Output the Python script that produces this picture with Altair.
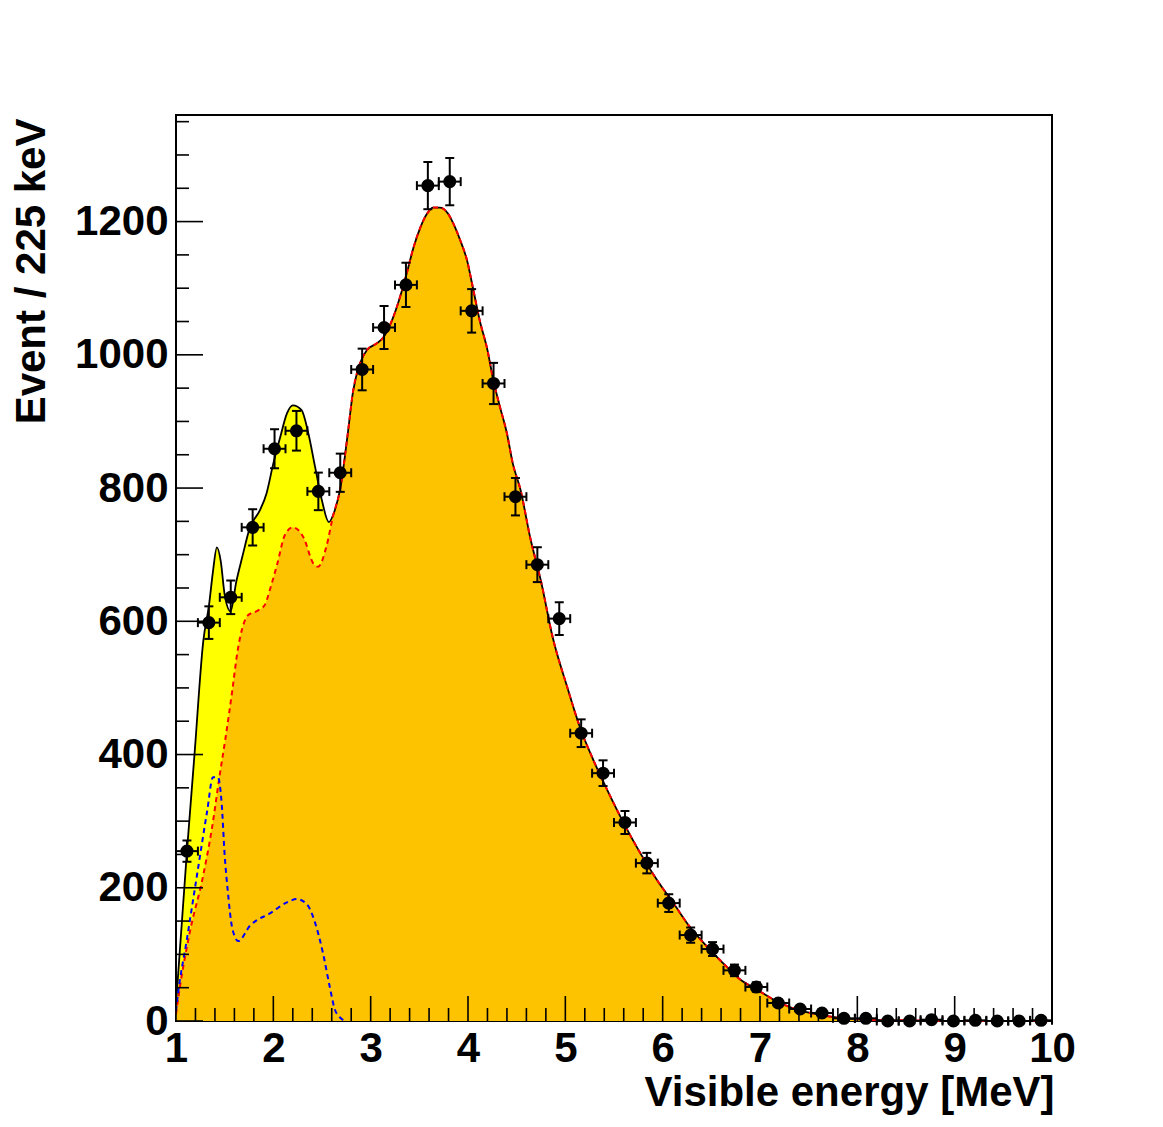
import altair as alt
import pandas as pd

# ---------------- data ----------------
bin_width = 0.225
counts = [255, 598, 636, 741, 859, 886, 795, 823, 978, 1041,
          1105, 1254, 1260, 1066, 957, 787, 685, 604, 432, 372,
          298, 237, 177, 129, 108, 76, 51, 27, 18, 12,
          4, 4, 0, 0, 2, 0, 1, 0, 0, 1]

# total fit (black solid, yellow fill)
total_x = [1.00, 1.11, 1.19, 1.28, 1.34, 1.38, 1.42, 1.46, 1.50, 1.56,
           1.62, 1.68, 1.76, 1.86, 1.93, 2.00, 2.07, 2.14, 2.20, 2.29,
           2.36, 2.43, 2.50, 2.57, 2.63, 2.69, 2.76, 2.82, 2.89, 2.96,
           3.06, 3.13, 3.22, 3.30, 3.37, 3.44, 3.51, 3.58, 3.64, 3.71,
           3.79, 3.85, 3.92, 3.99, 4.05, 4.12, 4.20, 4.26, 4.33, 4.40,
           4.46, 4.54, 4.64, 4.75, 4.87, 5.02, 5.15, 5.29, 5.43, 5.60,
           5.77, 5.94, 6.11, 6.28, 6.46, 6.62, 6.80, 6.97, 7.14, 7.34,
           7.55, 7.80, 8.10, 8.50, 9.00, 10.00]
total_y = [25, 250, 400, 570, 625, 675, 711, 690, 640, 615,
           660, 696, 741, 766, 792, 837, 876, 912, 924, 917,
           882, 831, 781, 749, 766, 801, 876, 946, 987, 1007,
           1017, 1026, 1052, 1086, 1122, 1161, 1191, 1212, 1221, 1221,
           1213, 1197, 1172, 1142, 1101, 1052, 1007, 962, 921, 882,
           837, 797, 725, 660, 576, 501, 441, 391, 347, 297,
           252, 212, 177, 141, 111, 87, 62, 47, 32, 19,
           11, 5, 2, 1, 0, 0]

# reactor component (red dashed, orange fill) below the point where it joins the total
reactor_x = [1.00, 1.04, 1.14, 1.28, 1.37, 1.45, 1.51, 1.58, 1.63, 1.68,
             1.74, 1.84, 1.91, 1.97, 2.04, 2.12, 2.20, 2.31, 2.41, 2.46,
             2.55, 2.61]
reactor_y = [10, 51, 132, 219, 290, 370, 426, 498, 553, 589,
             609, 616, 624, 650, 686, 730, 741, 726, 687, 682,
             715, 756]
join_x = 2.69

# geo-neutrino component (blue dashed)
geo_x = [1.00, 1.02, 1.11, 1.22, 1.32, 1.38, 1.43, 1.47, 1.50, 1.53,
         1.58, 1.64, 1.76, 1.97, 2.14, 2.24, 2.34, 2.43, 2.51, 2.58,
         2.63, 2.68, 2.74]
geo_y = [15, 40, 121, 223, 315, 366, 366, 325, 249, 198,
         138, 120, 143, 162, 178, 183, 176, 147, 102, 51,
         18, 6, 0]

x_major = list(range(1, 11))
x_minor = [round(1 + 0.2 * i, 2) for i in range(46) if i % 5 != 0]
y_major = [0, 200, 400, 600, 800, 1000, 1200]
y_minor = [50 * i for i in range(1, 28) if i % 4 != 0]

# ---------------- tables ----------------
centers = [1 + bin_width * (i + 0.5) for i in range(len(counts))]
pts = pd.DataFrame({"e": centers, "v": counts})
pts["lo"] = pts["v"] - pts["v"] ** 0.5
pts["hi"] = pts["v"] + pts["v"] ** 0.5
pts["xlo"] = pts["e"] - bin_width / 2
pts["xhi"] = pts["e"] + bin_width / 2

total = pd.DataFrame({"e": total_x, "v": total_y})
rx = reactor_x + [x for x in total_x if x >= join_x]
ry = reactor_y + [y for x, y in zip(total_x, total_y) if x >= join_x]
reactor = pd.DataFrame({"e": rx, "v": ry})
geo = pd.DataFrame({"e": geo_x, "v": geo_y})

W, H = 876, 906
FONT = "Liberation Sans"
xs = alt.Scale(domain=[1, 10], nice=False, zero=False)
ys = alt.Scale(domain=[0, 1360], nice=False)

x_axis = alt.Axis(values=x_major, format="d", ticks=False, domain=False, grid=False,
                  labelFont=FONT, labelFontSize=42, labelFontWeight="bold", labelColor="black",
                  labelPadding=7, labelOverlap=False, labelFlush=False,
                  title="Visible energy [MeV]", titleFont=FONT, titleFontSize=42,
                  titleFontWeight="bold", titleColor="black", titleAnchor="end",
                  titleAlign="right", titleBaseline="alphabetic", titleX=W + 2, titleY=84)
y_axis = alt.Axis(values=y_major, format="d", ticks=False, domain=False, grid=False,
                  labelFont=FONT, labelFontSize=42, labelFontWeight="bold", labelColor="black",
                  labelPadding=8, labelOverlap=False, labelFlush=False,
                  title="Event / 225 keV", titleFont=FONT, titleFontSize=42,
                  titleFontWeight="bold", titleColor="black", titleAngle=270,
                  titleAlign="right", titleBaseline="alphabetic", titleX=-132, titleY=3)

yellow = alt.Chart(total).mark_area(color="#FFFF00", interpolate="monotone", opacity=1).encode(
    x=alt.X("e:Q", scale=xs, axis=x_axis), y=alt.Y("v:Q", scale=ys, axis=y_axis))
orange = alt.Chart(reactor).mark_area(color="#FDC300", interpolate="monotone", opacity=1).encode(
    x=alt.X("e:Q", scale=xs), y=alt.Y("v:Q", scale=ys))
black_line = alt.Chart(total).mark_line(color="black", strokeWidth=1.8, interpolate="monotone").encode(
    x=alt.X("e:Q", scale=xs), y=alt.Y("v:Q", scale=ys))
red_line = alt.Chart(reactor).mark_line(color="#FF0000", strokeWidth=2, strokeDash=[5, 4],
                                        interpolate="monotone").encode(
    x=alt.X("e:Q", scale=xs), y=alt.Y("v:Q", scale=ys))
blue_line = alt.Chart(geo).mark_line(color="#0000FF", strokeWidth=2, strokeDash=[5, 4],
                                     interpolate="monotone").encode(
    x=alt.X("e:Q", scale=xs), y=alt.Y("v:Q", scale=ys))

# inner axis ticks (ROOT style)
xt_major = alt.Chart(pd.DataFrame({"e": x_major})).mark_rule(color="black", strokeWidth=1.6).encode(
    x=alt.X("e:Q", scale=xs), y=alt.value(H), y2=alt.value(H - 25))
xt_minor = alt.Chart(pd.DataFrame({"e": x_minor})).mark_rule(color="black", strokeWidth=1.6).encode(
    x=alt.X("e:Q", scale=xs), y=alt.value(H), y2=alt.value(H - 13))
yt_major = alt.Chart(pd.DataFrame({"v": y_major})).mark_rule(color="black", strokeWidth=1.6).encode(
    y=alt.Y("v:Q", scale=ys), x=alt.value(0), x2=alt.value(27))
yt_minor = alt.Chart(pd.DataFrame({"v": y_minor})).mark_rule(color="black", strokeWidth=1.6).encode(
    y=alt.Y("v:Q", scale=ys), x=alt.value(0), x2=alt.value(13))

# data points with error bars
vbar = alt.Chart(pts).mark_rule(color="black", strokeWidth=2).encode(
    x=alt.X("e:Q", scale=xs), y=alt.Y("lo:Q", scale=ys), y2="hi:Q")
hbar = alt.Chart(pts).mark_rule(color="black", strokeWidth=2).encode(
    x=alt.X("xlo:Q", scale=xs), x2="xhi:Q", y=alt.Y("v:Q", scale=ys))
cap_lo = alt.Chart(pts).mark_tick(color="black", orient="horizontal", size=9, thickness=2, opacity=1).encode(
    x=alt.X("e:Q", scale=xs), y=alt.Y("lo:Q", scale=ys))
cap_hi = alt.Chart(pts).mark_tick(color="black", orient="horizontal", size=9, thickness=2, opacity=1).encode(
    x=alt.X("e:Q", scale=xs), y=alt.Y("hi:Q", scale=ys))
cap_l = alt.Chart(pts).mark_tick(color="black", orient="vertical", size=9, thickness=2, opacity=1).encode(
    x=alt.X("xlo:Q", scale=xs), y=alt.Y("v:Q", scale=ys))
cap_r = alt.Chart(pts).mark_tick(color="black", orient="vertical", size=9, thickness=2, opacity=1).encode(
    x=alt.X("xhi:Q", scale=xs), y=alt.Y("v:Q", scale=ys))
dots = alt.Chart(pts).mark_circle(color="black", size=170, opacity=1).encode(
    x=alt.X("e:Q", scale=xs), y=alt.Y("v:Q", scale=ys))

chart = alt.layer(
    yellow, orange, black_line, red_line, blue_line,
    xt_major, xt_minor, yt_major, yt_minor,
    vbar, hbar, cap_lo, cap_hi, cap_l, cap_r, dots
).properties(
    width=W, height=H,
    autosize=alt.AutoSizeParams(type="none"),
    padding={"left": 168, "top": 107, "right": 90, "bottom": 95},
    background="white",
).configure_view(stroke="black", strokeWidth=2)

chart.save("out.html", embed_options={"renderer": "svg", "actions": False})
